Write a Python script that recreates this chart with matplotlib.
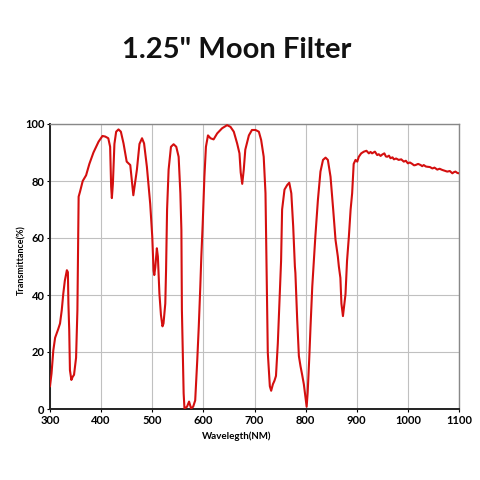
import matplotlib
matplotlib.use("Agg")
import matplotlib.pyplot as plt
import numpy as np

wavelength = [300, 303, 306.5, 310, 316, 319.6, 323, 326, 329, 333, 335, 336, 337.6, 339, 341.8, 344.4, 347, 351,
              353.6, 356, 358.8, 364, 370.6, 377, 385, 395, 402.6, 408, 414, 417.6, 419.6, 421, 423, 426, 429.4, 434,
              438.6, 443.8, 450, 453.6, 457, 463, 470, 475, 480, 484, 489.5, 496, 500, 502.6, 504, 506, 509, 511,
              514, 517, 520, 522, 525.5, 527, 529, 532, 536.6, 541.8, 547, 551.6, 555, 557, 558, 560, 561.4, 563,
              568, 572, 576, 580, 584, 588, 591, 594, 596, 598.7, 602, 605, 609, 614, 620, 627, 636.6, 646.4, 653,
              659.5, 666, 670.6, 673, 676, 679, 682, 689, 695, 702, 708.5, 713, 718, 721.5, 723.5, 726, 730, 732.6,
              736, 739, 742, 745.6, 749.6, 752, 754, 758.7, 764, 768, 772, 775.7, 779, 780, 783.5, 786.8, 790, 793,
              796.5, 800, 802, 804, 807, 809.6, 813, 816, 819, 824, 829, 834, 839, 843.5, 848.7, 854, 858.5, 863,
              865, 868, 870, 873, 875, 878, 881, 884.6, 888, 891, 894, 897.6, 901, 904, 908.7, 914, 919, 923.7,
              927, 930, 935.5, 940, 943, 946.6, 950, 954, 957, 959.6, 963, 966, 970, 972.7, 977, 982, 987, 992,
              996, 1000, 1004, 1008.5, 1012, 1015, 1020, 1025, 1028, 1031, 1035, 1038, 1043, 1048, 1052, 1057.5,
              1062, 1067, 1072, 1077, 1082, 1087, 1090, 1093, 1097, 1100]
transmittance = [8, 12.5, 20.6, 25, 28, 30, 34.7, 40.5, 45, 48.7, 48, 37, 27.7, 13.6, 10.2, 11.3, 12, 18,
                 34.7, 74.5, 76.3, 80, 82, 86, 90, 93.8, 95.8, 95.6, 95, 92, 78, 74, 79, 93, 97.3, 98.1,
                 97.3, 93.2, 86.8, 86.2, 85.6, 75, 84, 93, 95, 93.2, 85, 72, 60.5, 48.5, 47, 49.8, 56.4, 53.5,
                 40.5, 33, 29, 30, 37, 48.6, 70, 84, 92, 92.9, 92, 88.5, 75.7, 62.8, 34.7, 18.3, 5.5, 0.2,
                 0.8, 2.6, 0.2, 0.8, 3, 17, 29, 43, 53.5, 65, 81.5, 92, 96, 95, 94.6, 96.7, 98.5, 99.6, 99,
                 97.3, 93.2, 89.7, 83, 79, 84, 91, 96, 97.9, 97.9, 97.3, 94.4, 88.5, 75.7, 52, 19.8, 8, 6.4,
                 8.7, 9.9, 11.6, 23, 40.6, 52, 70, 77, 78.6, 79.4, 75.7, 64, 50, 47.7, 31.4, 18.6, 15, 12.2,
                 8.7, 3.5, 0.8, 5.8, 17.4, 29, 43, 52, 60.5, 73.3, 83.3, 87.4, 88.2, 87.4, 81.5, 69.8, 59.3, 53.5,
                 50, 46, 37, 32.6, 35.7, 40.3, 52, 60.5, 70, 75.7, 86, 87.4, 86.8, 88.5, 89.7, 90.3, 90.6, 89.7,
                 90.2, 89.7, 90.3, 89.1, 89.4, 88.8, 89.3, 89.7, 88.6, 88.5, 88.9, 88, 88.3, 87.6, 87.9, 87.4, 87.6, 86.8,
                 87.1, 86.2, 86.5, 86, 85.5, 85.6, 86.0, 85.6, 85.2, 85.6, 85.1, 85, 84.9, 84.4, 84.7, 84,
                 84.3, 83.9, 83.6, 83.3, 83.5, 82.7, 83.1, 83.3, 82.8, 82.7]

x_ticks = [300, 400, 500, 600, 700, 800, 900, 1000, 1100]
y_ticks = [0, 20, 40, 60, 80, 100]

plt.rcParams['font.family'] = ['Lato', 'DejaVu Sans']

fig = plt.figure(figsize=(4.8, 4.8), dpi=100)
ax = fig.add_axes([50/480, 1-409/480, 409/480, 285/480])
ax.plot(wavelength, transmittance, color='#d40f0f', lw=1.5, zorder=3)
ax.set_xlim(300, 1100)
ax.set_ylim(0, 100)
ax.set_xticks(x_ticks)
ax.set_yticks(y_ticks)
ax.grid(True, color='#c0c0c0', lw=0.8)
for s in ['top', 'right']:
    ax.spines[s].set_color('#888888')
    ax.spines[s].set_linewidth(1.0)
for s in ['left', 'bottom']:
    ax.spines[s].set_color('#222222')
    ax.spines[s].set_linewidth(1.4)
ax.tick_params(length=2, width=0.8, pad=2, labelsize=8)
for lab in ax.get_xticklabels() + ax.get_yticklabels():
    lab.set_fontweight('bold')
fig.text(237/480, 1-436/480, 'Wavelegth(NM)', ha='center', va='center', fontsize=7, fontweight='bold')
fig.text(22/480, 1-260/480, 'Transmittance(%)', ha='center', va='center', rotation=90, fontsize=6.5, fontweight='bold')
fig.text(237/480, 1-50/480, '1.25" Moon Filter', ha='center', va='center', fontsize=21, fontweight='bold', color='#111111')
fig.savefig('out.png', dpi=100, facecolor='white')
